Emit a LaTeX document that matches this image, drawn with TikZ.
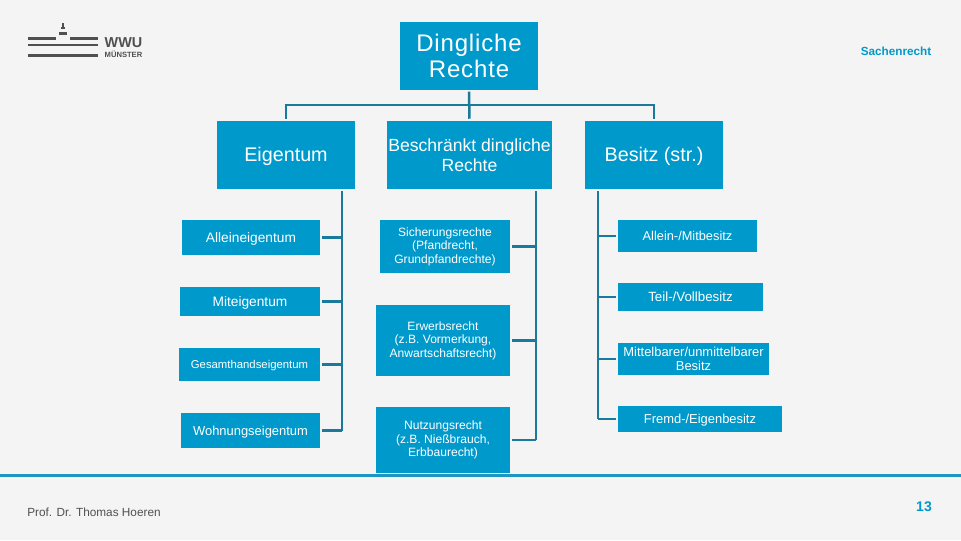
\documentclass[tikz,border=0pt]{standalone}
\usepackage{fontspec}
\setmainfont{Liberation Sans}
\definecolor{boxblue}{HTML}{0099CC}
\definecolor{linkblue}{HTML}{1A7A9C}
\definecolor{pagebg}{HTML}{F4F4F4}
\definecolor{logogray}{HTML}{505050}
\definecolor{footline}{HTML}{1E96C4}
\newcommand{\fs}[1]{\fontsize{#1}{1.18em}\selectfont}
\tikzset{
  box/.style={fill=boxblue,text=white,inner sep=0pt,align=center,anchor=center},
  sz/.style n args={2}{minimum width=#1*0.75pt,minimum height=#2*0.75pt},
  conn/.style={draw=linkblue,line width=1.9pt},
  stub/.style={conn,shorten <=1.5pt},
  tree/.style={conn,shorten <=1pt,shorten >=1.5pt},
  logobar/.style={fill=logogray,draw=none},
  big/.style={font=\fs{14.8},text height=10.6pt,text depth=1.5pt},
  mid/.style={font=\fs{10.3},text height=7.4pt,text depth=0pt},
  small/.style={font={\fontsize{9.05}{10.1pt}\selectfont}},
  single/.style={text height=7pt,text depth=0pt}
}
\begin{document}
\begin{tikzpicture}[x=0.75pt,y=-0.75pt]
\useasboundingbox (0,0) rectangle (961,540);
\fill[pagebg] (0,0) rectangle (961,540);
% logo
\fill[logobar] (28,37) rectangle (56,40);
\fill[logobar] (70,37) rectangle (98,40);
\fill[logobar] (28,44) rectangle (98,46);
\fill[logobar] (28,54) rectangle (98,57);
\fill[logobar] (59,32) rectangle (67,35);
\fill[logobar] (61,27) rectangle (65,28.5);
\fill[logobar] (62,23) rectangle (63.5,28);
\node[text=logogray,inner sep=0pt,font=\bfseries\fs{10.8}] (wwu) at (123.5,43) {WWU};
\node[text=logogray,inner sep=0pt,font=\bfseries\fs{5.7}] (muenster) at (123.5,54) {MÜNSTER};
% boxes
\node[box,sz={138}{68},font={\fontsize{18}{19.5pt}\selectfont\addfontfeature{LetterSpace=3.5}}] (top) at (469,56) {Dingliche\\Rechte};
\node[box,sz={138}{68},big] (eig) at (286,155) {Eigentum};
\node[box,sz={165}{68},font={\fontsize{13.2}{15pt}\selectfont}] (besch) at (469.5,155) {Beschränkt dingliche\\Rechte};
\node[box,sz={138}{68},big] (bes) at (654,155) {Besitz (str.)};
\node[box,sz={138}{35},mid] (allein) at (251,237.5) {Alleineigentum};
\node[box,sz={140}{29},mid] (mit) at (250,301.5) {Miteigentum};
\node[box,sz={141}{33},font=\fs{8.5},text height=6pt,text depth=0pt] (gesamt) at (249.5,364.5) {Gesamthandseigentum};
\node[box,sz={139}{35},font=\fs{9.7},text height=7pt,text depth=0pt] (wohn) at (250.5,430.5) {Wohnungseigentum};
\node[box,sz={130}{53},small] (sich) at (445,246.5) {Sicherungsrechte\\(Pfandrecht,\\Grundpfandrechte)};
\node[box,sz={134}{71},small] (erw) at (443,340.5) {Erwerbsrecht\\(z.B. Vormerkung,\\Anwartschaftsrecht)};
\node[box,sz={134}{66},small] (nutz) at (443,440) {Nutzungsrecht\\(z.B. Nießbrauch,\\Erbbaurecht)};
\node[box,sz={139}{32},font=\fs{9.6},single] (albes) at (687.5,236) {Allein-/Mitbesitz};
\node[box,sz={145}{28},font=\fs{10},single] (teil) at (690.5,297) {Teil-/Vollbesitz};
\node[box,sz={151}{32},font={\fontsize{9.7}{10.3pt}\selectfont}] (mittel) at (693.5,359) {Mittelbarer/unmittelbarer\\Besitz};
\node[box,sz={164}{26},font=\fs{9.7},single] (fremd) at (700,419) {Fremd-/Eigenbesitz};
% buses
\coordinate (hub) at (469,105);
\coordinate (busAt) at (342,191);
\coordinate (busAb) at (342,431);
\coordinate (busBt) at (536,191);
\coordinate (busBb) at (536,440);
\coordinate (busCt) at (598,191);
\coordinate (busCb) at (598,419);
\draw[tree] (top.south) -- (besch.north);
\draw[conn,shorten <=1.5pt,shorten >=1.5pt,line join=miter] (eig.north) -- (hub -| eig.north) -- (hub -| bes.north) -- (bes.north);
\draw[conn,line join=miter] (busAt) -- (busAb);
\draw[conn,line join=miter] (busBt) -- (busBb);
\draw[conn,line join=miter] (busCt) -- (busCb);
\foreach \n in {allein,mit,gesamt,wohn} \draw[stub] (\n.east) -- (\n.east -| busAt);
\foreach \n in {sich,erw,nutz} \draw[stub] (\n.east) -- (\n.east -| busBt);
\foreach \n in {albes,teil,mittel,fremd} \draw[stub] (\n.west) -- (\n.west -| busCt);
% footer
\fill[footline] (0,474) rectangle (961,477);
\node[text=boxblue,inner sep=0pt,font=\bfseries\fs{8.8}] (sach) at (896,51.5) {Sachenrecht};
\node[text=boxblue,inner sep=0pt,font=\bfseries\fs{10.5}] (num) at (924,506.5) {13};
\node[text=logogray,inner sep=0pt,font=\fs{8.85}] (prof) at (94,512.5) {Prof. Dr. Thomas Hoeren};
\end{tikzpicture}
\end{document}
